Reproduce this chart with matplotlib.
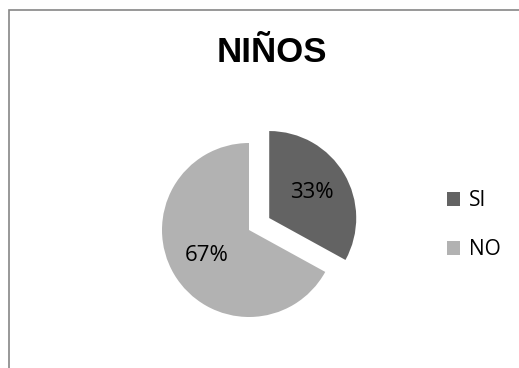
import matplotlib.pyplot as plt
from matplotlib.patches import Rectangle

labels = ['SI', 'NO']
values = [33, 67]
colors = ['#636363', '#b2b2b2']
title = 'NIÑOS'

W, H = 519, 368
fig = plt.figure(figsize=(W / 100, H / 100), dpi=100)

# chart border (gray frame, open on right/bottom edges of the image)
fig.patches.append(Rectangle((8.5 / W, -0.1), 1.2, 1 - 9.5 / H + 0.1,
                             transform=fig.transFigure, fill=False,
                             edgecolor='#868686', lw=1.2))

cx, cy, r = 249, 230, 87
ax = fig.add_axes([(cx - r) / W, (H - cy - r) / H, 2 * r / W, 2 * r / H])
wedges, texts, autotexts = ax.pie(
    values, colors=colors, startangle=90, counterclock=False,
    explode=[0.27, 0], autopct='%1.0f%%', pctdistance=0.57,
    textprops=dict(family='Open Sans', fontsize=16, color='black'))
ax.set_xlim(-1, 1)
ax.set_ylim(-1, 1)
ax.set_aspect('auto')
ax.axis('off')

fig.text(272 / W, 1 - 52 / H, title, ha='center', va='center',
         family='Liberation Sans', weight='bold', fontsize=25)

fig.legend(wedges, labels, loc='center left', bbox_to_anchor=(428 / W, 1 - 225 / H),
           frameon=False, prop=dict(family='Open Sans', size=15),
           handlelength=0.65, handleheight=0.65, handletextpad=0.4,
           labelspacing=1.35)

fig.savefig('out.png', dpi=100)
